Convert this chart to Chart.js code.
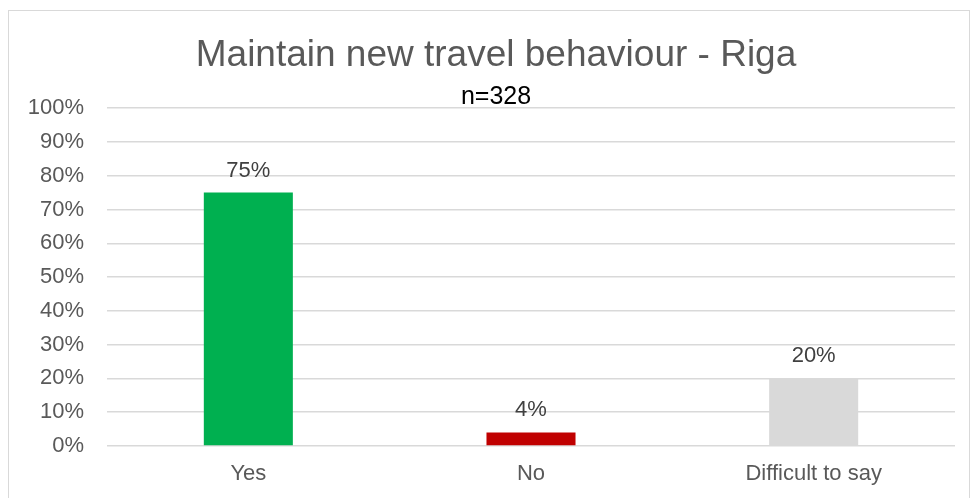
<!DOCTYPE html>
<html>
<head>
<meta charset="utf-8">
<title>Maintain new travel behaviour - Riga</title>
<script src="https://cdn.jsdelivr.net/npm/chart.js@4"></script>
<style>
    html, body { margin: 0; padding: 0; background: #fff; }
    #wrap { position: relative; width: 972px; height: 498px; overflow: hidden; }
    #frame { position: absolute; left: 8px; top: 10px; width: 960px; height: 520px; border: 1px solid #d9d9d9; }
    #chart { position: absolute; left: 0; top: 0; }
</style>
</head>
<body>
<div id="wrap">
    <div id="frame"></div>
    <canvas id="chart" width="972" height="498"></canvas>
</div>
<script>
// Chart data
const categories = ['Yes', 'No', 'Difficult to say'];
const shares = [75, 4, 20];
const valueLabels = shares.map(v => v + '%');
const barColors = ['#00b050', '#c00000', '#d9d9d9'];
const sampleNote = 'n=328';

const FONT = '"Liberation Sans", Arial, sans-serif';

// Percentage labels above each bar
const barLabels = {
    id: 'barLabels',
    afterDatasetsDraw(chart) {
        const ctx = chart.ctx;
        const meta = chart.getDatasetMeta(0);
        ctx.save();
        ctx.font = '22px ' + FONT;
        ctx.fillStyle = '#404040';
        ctx.textAlign = 'center';
        ctx.textBaseline = 'alphabetic';
        meta.data.forEach((bar, i) => {
            ctx.fillText(valueLabels[i], bar.x, bar.y - 16);
        });
        ctx.restore();
    }
};

const ctx = document.getElementById('chart').getContext('2d');
new Chart(ctx, {
    type: 'bar',
    data: {
        labels: categories,
        datasets: [{
            data: shares,
            backgroundColor: barColors,
            borderWidth: 0,
            barPercentage: 0.315,
            categoryPercentage: 1
        }]
    },
    options: {
        responsive: false,
        animation: false,
        layout: {
            padding: { top: 0, left: 20, right: 0, bottom: 0 }
        },
        plugins: {
            legend: { display: false },
            tooltip: { enabled: false },
            title: {
                display: true,
                text: 'Maintain new travel behaviour - Riga',
                color: '#595959',
                font: { family: FONT, size: 37, weight: 'normal', lineHeight: 1.2 },
                padding: { top: 34, bottom: 9 }
            },
            subtitle: {
                display: true,
                text: sampleNote,
                color: '#000000',
                font: { family: FONT, size: 25, weight: 'normal', lineHeight: 0.75 },
                padding: { top: 0, bottom: 2 }
            }
        },
        scales: {
            x: {
                afterFit(axis) { axis.height = 52; },
                grid: { display: false, drawTicks: false },
                border: { display: false },
                ticks: {
                    color: '#595959',
                    font: { family: FONT, size: 22 },
                    padding: 15
                }
            },
            y: {
                min: 0,
                max: 100,
                afterFit(axis) { axis.width = 87; },
                grid: { color: '#d9d9d9', lineWidth: 1.5, drawTicks: false },
                border: { display: false },
                ticks: {
                    stepSize: 10,
                    color: '#595959',
                    font: { family: FONT, size: 22 },
                    padding: 23,
                    callback: v => v + '%'
                }
            },
            // empty right-hand axis, only keeps the plot clear of the right frame
            yRight: {
                position: 'right',
                afterFit(axis) { axis.width = 17; },
                grid: { display: false, drawTicks: false },
                border: { display: false },
                ticks: { display: false }
            }
        }
    },
    plugins: [barLabels]
});
</script>
</body>
</html>
